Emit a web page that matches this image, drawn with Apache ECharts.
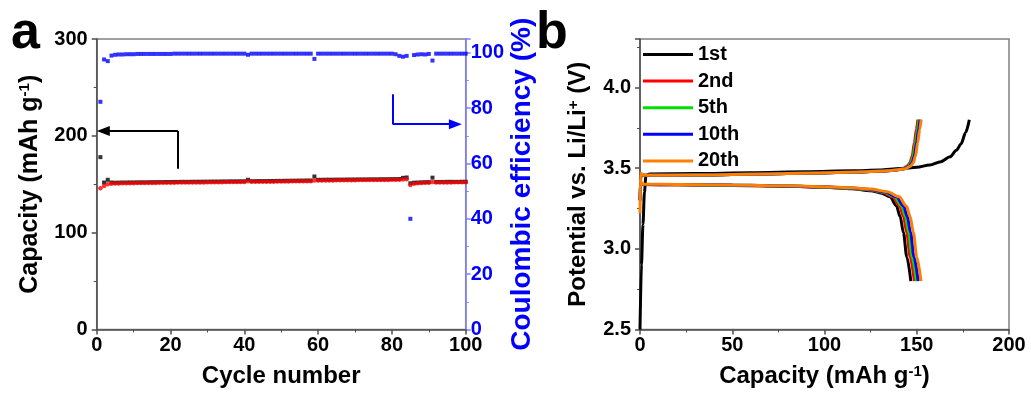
<!DOCTYPE html>
<html>
<head>
<meta charset="utf-8">
<script src="https://cdn.jsdelivr.net/npm/echarts@6/dist/echarts.min.js"></script>
<style>
  html, body { margin: 0; padding: 0; background: #fff; }
  #chart { width: 1031px; height: 394px; }
</style>
</head>
<body>
<div id="chart"></div>
<script>
// ---- panel a: cycling, one value per cycle (cycle 1..100) ----
const chargeCap = [
  178.0, 151.8, 154.6, 151.8, 151.6, 151.7, 151.8, 151.8, 151.9, 151.9,
  152.0, 152.0, 152.0, 152.1, 152.1, 152.2, 152.2, 152.2, 152.3, 152.3,
  152.4, 152.4, 152.5, 152.5, 152.5, 152.6, 152.6, 152.6, 152.7, 152.7,
  152.8, 152.8, 152.8, 152.9, 152.9, 153.0, 153.0, 153.0, 153.1, 153.1,
  154.6, 153.2, 153.2, 153.3, 153.3, 153.3, 153.4, 153.4, 153.5, 153.5,
  153.6, 153.6, 153.7, 153.7, 153.8, 153.8, 153.9, 153.9, 158.0, 154.6,
  154.6, 154.7, 154.7, 154.7, 154.8, 154.8, 154.8, 154.9, 154.9, 154.9,
  155.0, 155.0, 155.0, 155.1, 155.1, 155.1, 155.2, 155.2, 155.2, 155.3,
  155.3, 155.4, 156.6, 157.0, 151.0, 151.6, 151.8, 152.0, 152.1, 152.2,
  156.8, 152.4, 152.4, 152.4, 152.5, 152.5, 152.5, 152.5, 152.6, 152.6
];
const dischargeCap = [
  145.8, 148.2, 150.0, 150.6, 150.8, 150.9, 151.0, 151.0, 151.1, 151.1,
  151.2, 151.2, 151.3, 151.3, 151.4, 151.4, 151.5, 151.5, 151.5, 151.6,
  151.6, 151.7, 151.7, 151.7, 151.8, 151.8, 151.9, 151.9, 151.9, 152.0,
  152.0, 152.1, 152.1, 152.1, 152.2, 152.2, 152.3, 152.3, 152.3, 152.4,
  153.0, 152.5, 152.5, 152.6, 152.6, 152.7, 152.7, 152.7, 152.8, 152.8,
  152.9, 152.9, 153.0, 153.0, 153.0, 153.1, 153.1, 153.2, 153.8, 153.9,
  153.9, 154.0, 154.0, 154.0, 154.1, 154.1, 154.1, 154.2, 154.2, 154.2,
  154.3, 154.3, 154.3, 154.4, 154.4, 154.4, 154.5, 154.5, 154.5, 154.6,
  154.6, 154.7, 155.0, 155.2, 149.3, 150.5, 151.0, 151.3, 151.5, 151.6,
  152.2, 151.8, 151.8, 151.9, 151.9, 151.9, 152.0, 152.0, 152.0, 152.0
];
const coulombicEff = [
  82.3, 97.6, 97.0, 99.0, 99.3, 99.4, 99.4, 99.5, 99.5, 99.5,
  99.6, 99.6, 99.6, 99.6, 99.6, 99.6, 99.6, 99.6, 99.6, 99.6,
  99.7, 99.7, 99.7, 99.7, 99.7, 99.7, 99.7, 99.7, 99.7, 99.7,
  99.7, 99.7, 99.7, 99.7, 99.7, 99.7, 99.7, 99.7, 99.7, 99.7,
  99.3, 99.7, 99.7, 99.7, 99.7, 99.7, 99.7, 99.7, 99.7, 99.7,
  99.7, 99.7, 99.7, 99.7, 99.7, 99.7, 99.7, 99.7, 97.8, 99.7,
  99.7, 99.7, 99.7, 99.7, 99.7, 99.7, 99.7, 99.7, 99.7, 99.7,
  99.7, 99.7, 99.7, 99.7, 99.7, 99.7, 99.7, 99.7, 99.7, 99.7,
  99.5, 98.9, 98.6, 98.9, 40.0, 99.2, 99.4, 99.5, 99.4, 99.6,
  97.2, 99.7, 99.7, 99.7, 99.7, 99.7, 99.7, 99.7, 99.7, 99.7
];

// ---- panel b: voltage profiles, [capacity, potential] ----
const cycleNames = ['1st', '2nd', '5th', '10th', '20th'];
const cycleColors = ['#000000', '#ff0000', '#00e000', '#0000ff', '#ff8000'];

const charge1 = [[0,2.5],[0.8,2.9],[1.6,3.15],[2.4,3.35],[3.2,3.45],[5,3.463],[30,3.466],[60,3.471],[90,3.477],[115,3.483],[130,3.488],[141,3.497],[150,3.505],[157,3.52],[163,3.54],[168,3.57],[171.5,3.61],[174,3.65],[176.5,3.72],[178.5,3.80]];
const charge2 = [[0,3.3],[0.4,3.45],[1.5,3.455],[30,3.457],[60,3.462],[90,3.468],[115,3.474],[130,3.48],[138,3.487],[142,3.495],[144.6,3.51],[146.3,3.532],[147.5,3.573],[148.7,3.657],[149.8,3.74],[150.6,3.80]];
const charge5 = [[0,3.3],[0.4,3.45],[1.5,3.455],[30,3.457],[60,3.462],[90,3.468],[115,3.474],[130,3.48],[138,3.487],[142.5,3.495],[145.2,3.51],[146.9,3.532],[148.1,3.573],[149.3,3.657],[150.4,3.74],[151.2,3.80]];
const charge10 = [[0,3.3],[0.4,3.45],[1.5,3.455],[30,3.457],[60,3.462],[90,3.468],[115,3.474],[130,3.48],[138,3.487],[143,3.495],[145.8,3.51],[147.5,3.532],[148.7,3.573],[149.9,3.657],[151,3.74],[151.8,3.80]];
const charge20 = [[0,3.22],[0.3,3.47],[1.5,3.456],[30,3.457],[60,3.462],[90,3.468],[115,3.474],[130,3.48],[138,3.487],[143.4,3.495],[146.4,3.51],[148.1,3.532],[149.3,3.573],[150.5,3.657],[151.6,3.74],[152.4,3.80]];

const discharge1 = [[0,3.41],[1.5,3.398],[20,3.397],[50,3.393],[80,3.387],[100,3.381],[115,3.372],[125,3.36],[131,3.345],[135.5,3.322],[139,3.265],[141,3.2],[142.8,3.1],[144.6,2.95],[146.8,2.80]];
const discharge2 = [[0,3.41],[1.5,3.398],[20,3.397],[50,3.394],[80,3.388],[100,3.382],[115,3.374],[125,3.364],[132,3.348],[137,3.322],[140.8,3.265],[142.8,3.2],[144.6,3.1],[146.4,2.95],[148.7,2.80]];
const discharge5 = [[0,3.41],[1.5,3.399],[20,3.398],[50,3.394],[80,3.389],[100,3.383],[115,3.375],[125,3.366],[132.5,3.35],[138,3.322],[141.9,3.265],[143.9,3.2],[145.7,3.1],[147.5,2.95],[149.8,2.80]];
const discharge10 = [[0,3.41],[1.5,3.399],[20,3.398],[50,3.395],[80,3.389],[100,3.384],[115,3.376],[125,3.368],[133,3.352],[139,3.322],[142.9,3.265],[144.9,3.2],[146.7,3.1],[148.5,2.95],[150.8,2.80]];
const discharge20 = [[0,3.43],[1.5,3.4],[20,3.399],[50,3.396],[80,3.39],[100,3.385],[115,3.378],[125,3.37],[134,3.354],[140.4,3.322],[144.4,3.265],[146.4,3.2],[148.2,3.1],[150,2.95],[152.3,2.80]];

const chargeCurves = [charge1, charge2, charge5, charge10, charge20];
const dischargeCurves = [discharge1, discharge2, discharge5, discharge10, discharge20];

const FONT = 'Liberation Sans, Arial, sans-serif';
const AXIS_GRAY = '#4d4d4d';

const chart = echarts.init(document.getElementById('chart'));

function tickLabel(color) {
  return { color: color, fontSize: 20, fontWeight: 'bold', fontFamily: FONT };
}
function titleStyle(size, color) {
  return {
    fontSize: size, fontWeight: 'bold', fontFamily: FONT, color: color,
    rich: { sup: { fontSize: 15, fontWeight: 'bold', fontFamily: FONT, color: color, verticalAlign: 'top', lineHeight: 15 } }
  };
}

const profileSeries = [];
cycleNames.forEach((name, i) => {
  [chargeCurves[i], dischargeCurves[i]].forEach(curve => {
    profileSeries.push({
      name: name, type: 'line', xAxisIndex: 1, yAxisIndex: 2,
      data: curve, showSymbol: false, symbol: 'none',
      smooth: 0.3, smoothMonotone: 'x',
      lineStyle: { color: cycleColors[i], width: 3 },
      itemStyle: { color: cycleColors[i] },
      silent: true, animation: false
    });
  });
});

const option = {
  animation: false,
  textStyle: { fontFamily: FONT },
  grid: [
    { left: 96.7, top: 39, width: 369, height: 290.5, show: true, borderColor: '#808080', borderWidth: 1.5 },
    { left: 640, top: 39, width: 369, height: 290.5, show: true, borderColor: '#808080', borderWidth: 1.5 }
  ],
  legend: {
    orient: 'vertical', left: 643, top: 44, padding: 0,
    itemWidth: 50, itemHeight: 3, itemGap: 5.6, icon: 'rect',
    data: cycleNames,
    textStyle: { fontSize: 20, fontWeight: 'bold', fontFamily: FONT, color: '#000', lineHeight: 21 },
    selectedMode: false
  },
  xAxis: [
    {
      gridIndex: 0, type: 'value', min: 0, max: 100, interval: 20,
      name: 'Cycle number', nameLocation: 'middle', nameGap: 35,
      nameTextStyle: titleStyle(24, '#000'),
      axisLine: { lineStyle: { color: AXIS_GRAY, width: 1.5 } },
      axisTick: { inside: false, length: 5, lineStyle: { color: AXIS_GRAY, width: 1.5 } },
      minorTick: { show: true, splitNumber: 2, length: 3, lineStyle: { color: AXIS_GRAY, width: 1 } },
      axisLabel: Object.assign({ margin: 6 }, tickLabel('#000')),
      splitLine: { show: false }
    },
    {
      gridIndex: 1, type: 'value', min: 0, max: 200, interval: 50,
      name: 'Capacity (mAh g{sup|-1})', nameLocation: 'middle', nameGap: 35,
      nameTextStyle: titleStyle(24, '#000'),
      axisLine: { lineStyle: { color: AXIS_GRAY, width: 1.5 } },
      axisTick: { inside: false, length: 5, lineStyle: { color: AXIS_GRAY, width: 1.5 } },
      minorTick: { show: true, splitNumber: 2, length: 3, lineStyle: { color: AXIS_GRAY, width: 1 } },
      axisLabel: Object.assign({ margin: 6 }, tickLabel('#000')),
      splitLine: { show: false }
    }
  ],
  yAxis: [
    {
      gridIndex: 0, type: 'value', min: 0, max: 300, interval: 100, position: 'left',
      name: 'Capacity (mAh g{sup|-1})', nameLocation: 'middle', nameGap: 54, nameRotate: 90,
      nameTextStyle: titleStyle(25, '#000'),
      axisLine: { show: true, lineStyle: { color: AXIS_GRAY, width: 1.5 } },
      axisTick: { show: true, inside: false, length: 5, lineStyle: { color: AXIS_GRAY, width: 1.5 } },
      minorTick: { show: true, splitNumber: 2, length: 3, lineStyle: { color: AXIS_GRAY, width: 1 } },
      axisLabel: Object.assign({ margin: 9 }, tickLabel('#000')),
      splitLine: { show: false }
    },
    {
      gridIndex: 0, type: 'value', min: 0, max: 105, interval: 20, position: 'right',
      name: 'Coulombic efficiency (%)', nameLocation: 'middle', nameGap: 33, nameRotate: 90,
      nameTextStyle: titleStyle(28, '#0000ff'),
      axisLine: { show: true, lineStyle: { color: '#8080ff', width: 1.5 } },
      axisTick: { show: true, inside: false, length: 5, lineStyle: { color: '#8080ff', width: 1.5 } },
      minorTick: { show: true, splitNumber: 2, length: 3, lineStyle: { color: '#8080ff', width: 1 } },
      axisLabel: Object.assign({ margin: 5, formatter: v => (v > 100 ? '' : v) }, tickLabel('#0000ff')),
      splitLine: { show: false }
    },
    {
      gridIndex: 1, type: 'value', min: 2.5, max: 4.3, interval: 0.5, position: 'left',
      name: 'Potential vs. Li/Li{sup|+} (V)', nameLocation: 'middle', nameGap: 50, nameRotate: 90,
      nameTextStyle: titleStyle(24, '#000'),
      axisLine: { show: true, lineStyle: { color: AXIS_GRAY, width: 1.5 } },
      axisTick: { show: true, inside: false, length: 5, lineStyle: { color: AXIS_GRAY, width: 1.5 } },
      minorTick: { show: true, splitNumber: 2, length: 3, lineStyle: { color: AXIS_GRAY, width: 1 } },
      axisLabel: Object.assign({ margin: 9, formatter: v => (v > 4.01 ? '' : v.toFixed(1)) }, tickLabel('#000')),
      splitLine: { show: false }
    }
  ],
  graphic: [
    { type: 'text', left: 11, top: 8, style: { text: 'a', font: 'bold 52px ' + FONT, fill: '#000' } },
    { type: 'text', left: 536, top: 8, style: { text: 'b', font: 'bold 52px ' + FONT, fill: '#000' } }
  ],
  series: [
    {
      name: 'charge', type: 'scatter', xAxisIndex: 0, yAxisIndex: 0,
      data: chargeCap.map((v, i) => [i + 1, v]),
      symbol: 'rect', symbolSize: 4, itemStyle: { color: '#000' }, silent: true,
      markLine: {
        silent: true, animation: false, label: { show: false },
        lineStyle: { type: 'solid', color: '#000', width: 2 },
        data: [
          [{ coord: [22, 166], symbol: 'none' }, { coord: [22, 205], symbol: 'none' }],
          [{ coord: [22, 205], symbol: 'none' }, { coord: [1.8, 205], symbol: 'triangle', symbolSize: [10, 13] }]
        ]
      }
    },
    {
      name: 'discharge', type: 'scatter', xAxisIndex: 0, yAxisIndex: 0,
      data: dischargeCap.map((v, i) => [i + 1, v]),
      symbol: 'circle', symbolSize: 4.5, itemStyle: { color: '#ff0000' }, silent: true
    },
    {
      name: 'CE', type: 'scatter', xAxisIndex: 0, yAxisIndex: 1,
      data: coulombicEff.map((v, i) => [i + 1, v]),
      symbol: 'rect', symbolSize: 4, itemStyle: { color: '#0000ff' }, silent: true,
      markLine: {
        silent: true, animation: false, label: { show: false },
        lineStyle: { type: 'solid', color: '#0000ff', width: 2 },
        data: [
          [{ coord: [80.2, 85], symbol: 'none' }, { coord: [80.2, 74.2], symbol: 'none' }],
          [{ coord: [80.2, 74.2], symbol: 'none' }, { coord: [97.2, 74.2], symbol: 'triangle', symbolSize: [10, 13] }]
        ]
      }
    }
  ].concat(profileSeries)
};

chart.setOption(option);
</script>
</body>
</html>
